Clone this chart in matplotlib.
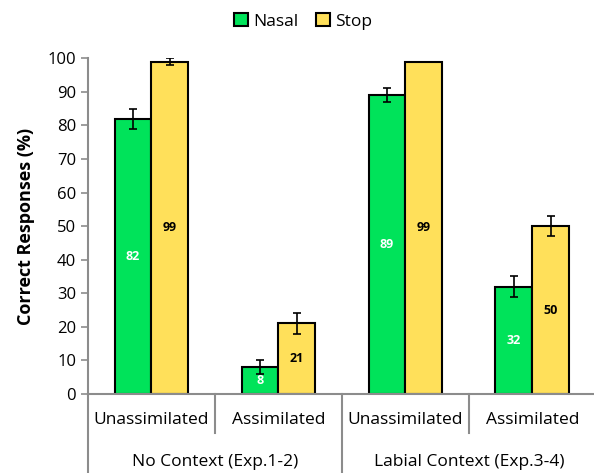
import numpy as np
import matplotlib.pyplot as plt
from matplotlib import transforms

plt.rcParams['font.family'] = ['Open Sans', 'DejaVu Sans']

conditions = ['Unassimilated', 'Assimilated', 'Unassimilated', 'Assimilated']
groups = ['No Context (Exp.1-2)', 'Labial Context (Exp.3-4)']
nasal = [82, 8, 89, 32]
nasal_err = [3, 2, 2, 3]
stop = [99, 21, 99, 50]
stop_err = [1, 3, 0, 3]

green = '#00e35a'
yellow = '#ffe05a'
grey = '#8c8c8c'

fig = plt.figure(figsize=(5.94, 4.73), dpi=100)
ax = fig.add_axes([0.148, 0.167, 0.855, 0.710])

x = np.arange(len(conditions))
w = 0.29
b1 = ax.bar(x - w/2, nasal, w, color=green, edgecolor='black', linewidth=1.5,
            label='Nasal', zorder=2)
b2 = ax.bar(x + w/2, stop, w, color=yellow, edgecolor='black', linewidth=1.5,
            label='Stop', zorder=2)
ax.errorbar(x - w/2, nasal, yerr=nasal_err, fmt='none', ecolor='black',
            elinewidth=1.2, capsize=3, capthick=1.2, zorder=3)
ax.errorbar(x + w/2, stop, yerr=stop_err, fmt='none', ecolor='black',
            elinewidth=1.2, capsize=3, capthick=1.2, zorder=3)

for xi, v in zip(x - w/2, nasal):
    ax.text(xi, v/2, str(v), ha='center', va='center', color='white',
            fontsize=9, fontweight='bold', zorder=4)
for xi, v in zip(x + w/2, stop):
    ax.text(xi, v/2, str(v), ha='center', va='center', color='black',
            fontsize=9, fontweight='bold', zorder=4)

ax.set_xlim(-0.5, 3.5)
ax.set_ylim(0, 100)
ax.set_yticks(range(0, 101, 10))
ax.tick_params(axis='y', labelsize=12, color=grey, length=5, width=1.2)
ax.set_xticks([])
ax.set_ylabel('Correct Responses (%)', fontsize=13, fontweight='bold', labelpad=9)
for s in ['top', 'right']:
    ax.spines[s].set_visible(False)
for s in ['left', 'bottom']:
    ax.spines[s].set_color(grey)
    ax.spines[s].set_linewidth(1.5)

# multi-level category axis
trans = transforms.blended_transform_factory(ax.transData, ax.transAxes)
for xb in [0.5, 2.5]:
    ax.plot([xb, xb], [0, -0.116], transform=trans, color=grey, lw=1.5, clip_on=False)
for xb in [-0.5, 1.5, 3.5]:
    ax.plot([xb, xb], [0, -0.24], transform=trans, color=grey, lw=1.5, clip_on=False)
for xi, c in zip(x, conditions):
    ax.text(xi, -0.077, c, transform=trans, ha='center', va='center', fontsize=12.5)
for gi, g in enumerate(groups):
    ax.text(2*gi + 0.5, -0.203, g, transform=trans, ha='center', va='center', fontsize=12.5)

fig.legend(handles=[b1, b2], loc='center', bbox_to_anchor=(0.51, 0.955), ncol=2,
           frameon=False, fontsize=12.5, handlelength=0.8, handleheight=0.8,
           handletextpad=0.3, columnspacing=1.0)

fig.savefig('out.png', dpi=100)
